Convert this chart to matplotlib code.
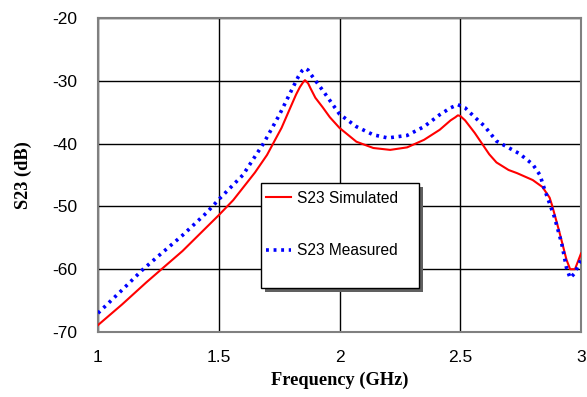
import matplotlib
matplotlib.use("Agg")
import matplotlib.pyplot as plt
from matplotlib.patches import Rectangle
from matplotlib.lines import Line2D

# Simulated S23 (red solid)
sim_freq = [1.00, 1.10, 1.20, 1.257, 1.35, 1.45, 1.50, 1.56, 1.65, 1.70, 1.725, 1.76, 1.795, 1.82, 1.836, 1.85, 1.857,
            1.87, 1.88, 1.90, 1.93, 1.96, 2.00, 2.07, 2.14, 2.21, 2.28, 2.35, 2.415, 2.46, 2.48, 2.49, 2.50, 2.52, 2.56, 2.59,
            2.62, 2.65, 2.70, 2.735, 2.80, 2.84, 2.87, 2.88, 2.91, 2.94, 2.955, 2.975, 2.99, 3.00]
sim_db = [-68.9, -65.6, -62.1, -60.2, -57.1, -53.3, -51.4, -49.0, -44.6, -41.8, -40.0, -37.5, -34.4, -32.2, -31.0, -30.2, -29.9,
          -30.4, -31.2, -32.7, -34.2, -35.8, -37.5, -39.7, -40.7, -41.0, -40.6, -39.4, -37.8, -36.3, -35.8, -35.5, -35.6, -36.3, -38.3, -40.0,
          -41.7, -43.0, -44.2, -44.7, -45.8, -46.9, -48.6, -49.8, -54.0, -58.5, -60.0, -60.0, -58.5, -57.5]

# Measured S23 (blue dotted)
mea_freq = [1.00, 1.10, 1.187, 1.25, 1.35, 1.45, 1.50, 1.60, 1.685, 1.75, 1.795, 1.83, 1.845, 1.857,
            1.87, 1.88, 1.93, 2.00, 2.07, 2.14, 2.20, 2.28, 2.35, 2.415, 2.46, 2.49, 2.52, 2.56, 2.60,
            2.65, 2.745, 2.80, 2.83, 2.85, 2.89, 2.92, 2.94, 2.955, 2.975, 2.99, 3.00]
mea_db = [-67.0, -63.3, -60.0, -57.9, -54.6, -51.0, -48.9, -45.0, -40.0, -35.5, -32.0, -29.3, -28.4, -28.0,
          -28.3, -28.9, -31.5, -35.3, -37.3, -38.6, -39.1, -38.7, -37.3, -35.4, -34.3, -33.8, -34.3, -35.8, -37.2,
          -39.6, -41.6, -43.3, -45.0, -47.4, -51.7, -55.9, -59.8, -61.4, -60.6, -59.2, -58.5]

labels = ["S23 Simulated", "S23 Measured"]
x_ticks = [1, 1.5, 2, 2.5, 3]
x_tick_labels = ["1", "1.5", "2", "2.5", "3"]
y_ticks = [-70, -60, -50, -40, -30, -20]
y_tick_labels = ["-70", "-60", "-50", "-40", "-30", "-20"]

fig = plt.figure(figsize=(5.87, 3.97), dpi=100)
ax = fig.add_axes([98/587, 65/397, 483/587, 314/397])

ax.plot(sim_freq, sim_db, color="#ff0000", lw=1.5, zorder=3)
ax.plot(mea_freq, mea_db, color="#0000ff", lw=2.6, linestyle=(0, (0.8, 1.3)), zorder=4)

ax.set_xlim(1, 3)
ax.set_ylim(-70, -20)
ax.set_xticks(x_ticks)
ax.set_xticklabels(x_tick_labels)
ax.set_yticks(y_ticks)
ax.set_yticklabels(y_tick_labels)
ax.tick_params(length=0, labelsize=12.5)
ax.tick_params(axis="y", pad=15)
ax.tick_params(axis="x", pad=13)
for lab in ax.get_xticklabels() + ax.get_yticklabels():
    lab.set_fontfamily("Liberation Sans")

ax.grid(True, color="black", lw=1.0)
ax.set_axisbelow(True)
for s in ax.spines.values():
    s.set_color("#808080")
    s.set_linewidth(1.5)

ax.set_xlabel("Frequency (GHz)", fontsize=13.2, fontweight="bold", family="Liberation Serif")
ax.set_ylabel("S23 (dB)", fontsize=13.2, fontweight="bold", family="Liberation Serif")
ax.xaxis.set_label_coords(0.5, -0.125)
ax.yaxis.set_label_coords(-0.137, 0.5)

# Legend box with shadow
bx0, by0, bw, bh = 261/587, (397-288)/397, 158/587, 105/397
shadow = Rectangle((bx0 + 4/587, by0 - 4/397), bw, bh, transform=fig.transFigure,
                   facecolor="#606060", edgecolor="none", zorder=5)
box = Rectangle((bx0, by0), bw, bh, transform=fig.transFigure,
                facecolor="white", edgecolor="black", lw=1.0, zorder=6)
fig.patches.extend([shadow, box])

handles = [Line2D([], [], color="#ff0000", lw=1.5),
           Line2D([], [], color="#0000ff", lw=2.6, linestyle=(0, (0.8, 1.3)))]
leg = fig.legend(handles, labels, loc="upper left", bbox_to_anchor=(bx0, by0 + bh - 3/397),
                 frameon=False, prop={"family": "Liberation Sans", "size": 11.2},
                 handlelength=1.6, handletextpad=0.4, labelspacing=2.4, borderaxespad=0,
                 borderpad=0.3)
leg.set_zorder(7)

fig.savefig("out.png", dpi=100)
